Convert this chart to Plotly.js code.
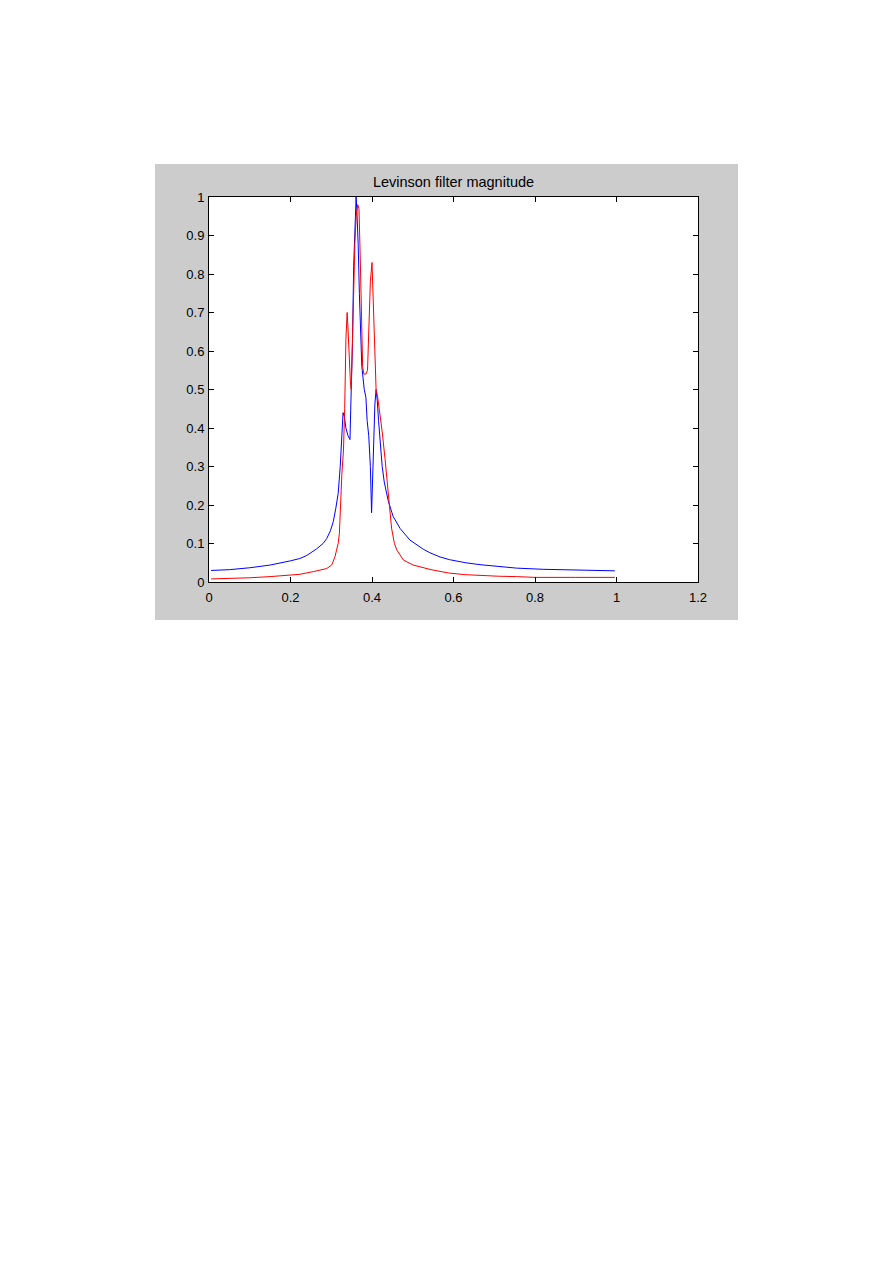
<!DOCTYPE html>
<html>
<head>
<meta charset="utf-8">
<script src="https://cdn.plot.ly/plotly-3.0.1.min.js"></script>
<style>
  html, body { margin: 0; padding: 0; background: #ffffff; width: 893px; height: 1263px; }
  #fig { position: absolute; left: 155px; top: 164px; width: 583px; height: 456px; background: #cccccc; }
</style>
</head>
<body>
<div id="fig"></div>
<script>
// Blue series (frequency, magnitude)
const blueX = [0.005, 0.05, 0.10, 0.15, 0.20, 0.223, 0.24, 0.256, 0.264, 0.28, 0.289, 0.298, 0.305, 0.311, 0.317, 0.322, 0.326, 0.329, 0.332, 0.336, 0.341, 0.346, 0.349, 0.352, 0.355, 0.358, 0.361, 0.363, 0.366, 0.369, 0.372, 0.375, 0.378, 0.381, 0.385, 0.388, 0.392, 0.396, 0.399, 0.401, 0.404, 0.407, 0.410, 0.413, 0.416, 0.420, 0.425, 0.430, 0.440, 0.452, 0.469, 0.493, 0.526, 0.542, 0.567, 0.59, 0.63, 0.665, 0.71, 0.755, 0.82, 0.90, 0.95, 0.996];
const blueY = [0.030, 0.032, 0.037, 0.044, 0.055, 0.061, 0.069, 0.080, 0.086, 0.100, 0.113, 0.133, 0.157, 0.190, 0.23, 0.30, 0.37, 0.44, 0.43, 0.40, 0.38, 0.37, 0.50, 0.62, 0.82, 0.95, 1.00, 0.96, 0.88, 0.75, 0.62, 0.56, 0.53, 0.50, 0.48, 0.42, 0.38, 0.30, 0.18, 0.25, 0.40, 0.46, 0.50, 0.47, 0.42, 0.36, 0.30, 0.26, 0.210, 0.17, 0.139, 0.109, 0.085, 0.076, 0.065, 0.058, 0.050, 0.045, 0.040, 0.036, 0.033, 0.031, 0.030, 0.029];

// Red series (frequency, magnitude)
const redX = [0.005, 0.05, 0.10, 0.15, 0.20, 0.223, 0.256, 0.272, 0.289, 0.301, 0.305, 0.309, 0.313, 0.317, 0.320, 0.323, 0.326, 0.330, 0.333, 0.336, 0.339, 0.341, 0.344, 0.347, 0.349, 0.352, 0.355, 0.358, 0.361, 0.365, 0.368, 0.371, 0.374, 0.377, 0.380, 0.385, 0.389, 0.392, 0.396, 0.400, 0.403, 0.406, 0.410, 0.414, 0.418, 0.425, 0.432, 0.440, 0.448, 0.455, 0.461, 0.477, 0.501, 0.545, 0.59, 0.63, 0.665, 0.71, 0.755, 0.80, 0.90, 0.996];
const redY = [0.008, 0.009, 0.011, 0.014, 0.019, 0.020, 0.027, 0.031, 0.035, 0.044, 0.053, 0.065, 0.083, 0.100, 0.127, 0.213, 0.28, 0.343, 0.45, 0.63, 0.70, 0.66, 0.58, 0.52, 0.50, 0.60, 0.75, 0.88, 0.95, 0.98, 0.97, 0.85, 0.70, 0.56, 0.54, 0.54, 0.55, 0.65, 0.78, 0.83, 0.72, 0.58, 0.50, 0.48, 0.45, 0.39, 0.32, 0.23, 0.14, 0.10, 0.083, 0.057, 0.044, 0.032, 0.023, 0.019, 0.017, 0.015, 0.014, 0.012, 0.012, 0.012];

const titleText = 'Levinson filter magnitude';
const xTicks = [0, 0.2, 0.4, 0.6, 0.8, 1, 1.2];
const xTickText = ['0', '0.2', '0.4', '0.6', '0.8', '1', '1.2'];
const yTicks = [0, 0.1, 0.2, 0.3, 0.4, 0.5, 0.6, 0.7, 0.8, 0.9, 1];
const yTickText = ['0', '0.1', '0.2', '0.3', '0.4', '0.5', '0.6', '0.7', '0.8', '0.9', '1'];

const traces = [
  { x: blueX, y: blueY, type: 'scatter', mode: 'lines', line: { color: '#0000ff', width: 1 }, hoverinfo: 'none' },
  { x: redX, y: redY, type: 'scatter', mode: 'lines', line: { color: '#ff0000', width: 1 }, hoverinfo: 'none' }
];

const fontFam = 'Liberation Sans, Arial, sans-serif';
const axisCommon = {
  showline: true, linecolor: '#000000', linewidth: 1, mirror: 'ticks',
  ticks: 'inside', ticklen: 5, tickwidth: 1, tickcolor: '#000000',
  showgrid: false, zeroline: false,
  tickfont: { family: fontFam, size: 13, color: '#000000' }
};

const layout = {
  width: 583, height: 456,
  paper_bgcolor: '#cccccc', plot_bgcolor: '#ffffff',
  margin: { l: 54, r: 40, t: 33, b: 38 },
  showlegend: false,
  title: { text: titleText, x: 0.5, xref: 'paper', xanchor: 'center', y: 1, yref: 'paper', yanchor: 'bottom', pad: { b: 10 },
           font: { family: fontFam, size: 14.5, color: '#000000' } },
  xaxis: Object.assign({}, axisCommon, { range: [0, 1.2], tickvals: xTicks, ticktext: xTickText, ticklabelstandoff: 3 }),
  yaxis: Object.assign({}, axisCommon, { range: [0, 1], tickvals: yTicks, ticktext: yTickText, ticklabelstandoff: 1 })
};

Plotly.newPlot('fig', traces, layout, { displayModeBar: false, staticPlot: true });
</script>
</body>
</html>
